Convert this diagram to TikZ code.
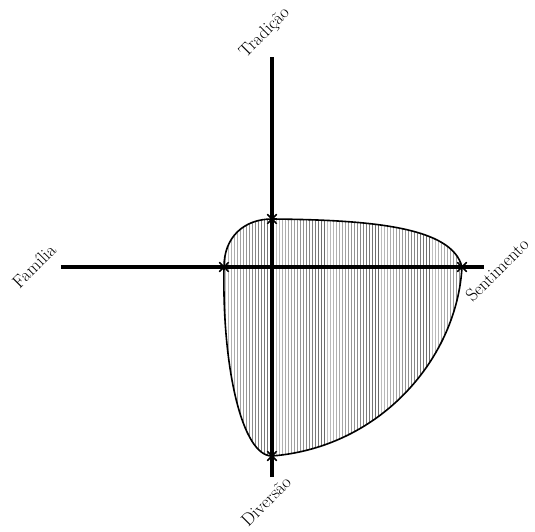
\documentclass[tikz,border=0pt]{standalone}
\usepackage{fontspec}
\usetikzlibrary{shapes.misc,positioning,calc}
\begin{document}
\begin{tikzpicture}[
    x=1pt, y=1pt,
    axis/.style={line width=4.5pt},
    blob/.style={line width=1.6pt},
    axislabel/.style={rotate=45, inner sep=0pt, font=\fontsize{18}{21}\selectfont},
    cross/.style={cross out, draw, line width=1.3pt, minimum size=8pt, inner sep=0pt}
]
    \useasboundingbox (-272,-265) rectangle (263,267);

    \coordinate (tradend) at (0,210);
    \coordinate (divend) at (0,-210);
    \coordinate (famend) at (-211,0);
    \coordinate (sentend) at (212,0);

    \node[cross] (t) at (0,48) {};
    \node[cross] (l) at (-48,0) {};
    \node[cross] (r) at (190,0) {};
    \node[cross] (b) at (0,-189) {};

    \begin{scope}
        \clip (l.center) .. controls (-48,30) and (-28,48) .. (t.center)
            .. controls (100,47) and (180,40) .. (r.center)
            .. controls (185,-90) and (110,-180) .. (b.center)
            .. controls (-30,-189) and (-50,-100) .. (l.center) -- cycle;
        \foreach \i in {0,...,82} {
            \pgfmathtruncatemacro\g{25+mod(\i*37,35)}
            \draw[black!\g!white, line width=0.9pt] (-50+3*\i,-200) -- (-50+3*\i,60);
        }
    \end{scope}
    \draw[blob] (l.center) .. controls (-48,30) and (-28,48) .. (t.center)
        .. controls (100,47) and (180,40) .. (r.center)
        .. controls (185,-90) and (110,-180) .. (b.center)
        .. controls (-30,-189) and (-50,-100) .. (l.center) -- cycle;

    \draw[axis] (famend) -- (sentend);
    \draw[axis] (divend) -- (tradend);

    \node[cross] at (t) {};
    \node[cross] at (l) {};
    \node[cross] at (r) {};
    \node[cross] at (b) {};

    \node[axislabel] (trad) at (-7,234) {Tradição};
    \node[axislabel] (fam) at (-238,1) {Família};
    \node[axislabel] (sent) at (225,-3) {Sentimento};
    \node[axislabel] (div) at (-6,-234) {Diversão};
\end{tikzpicture}
\end{document}
